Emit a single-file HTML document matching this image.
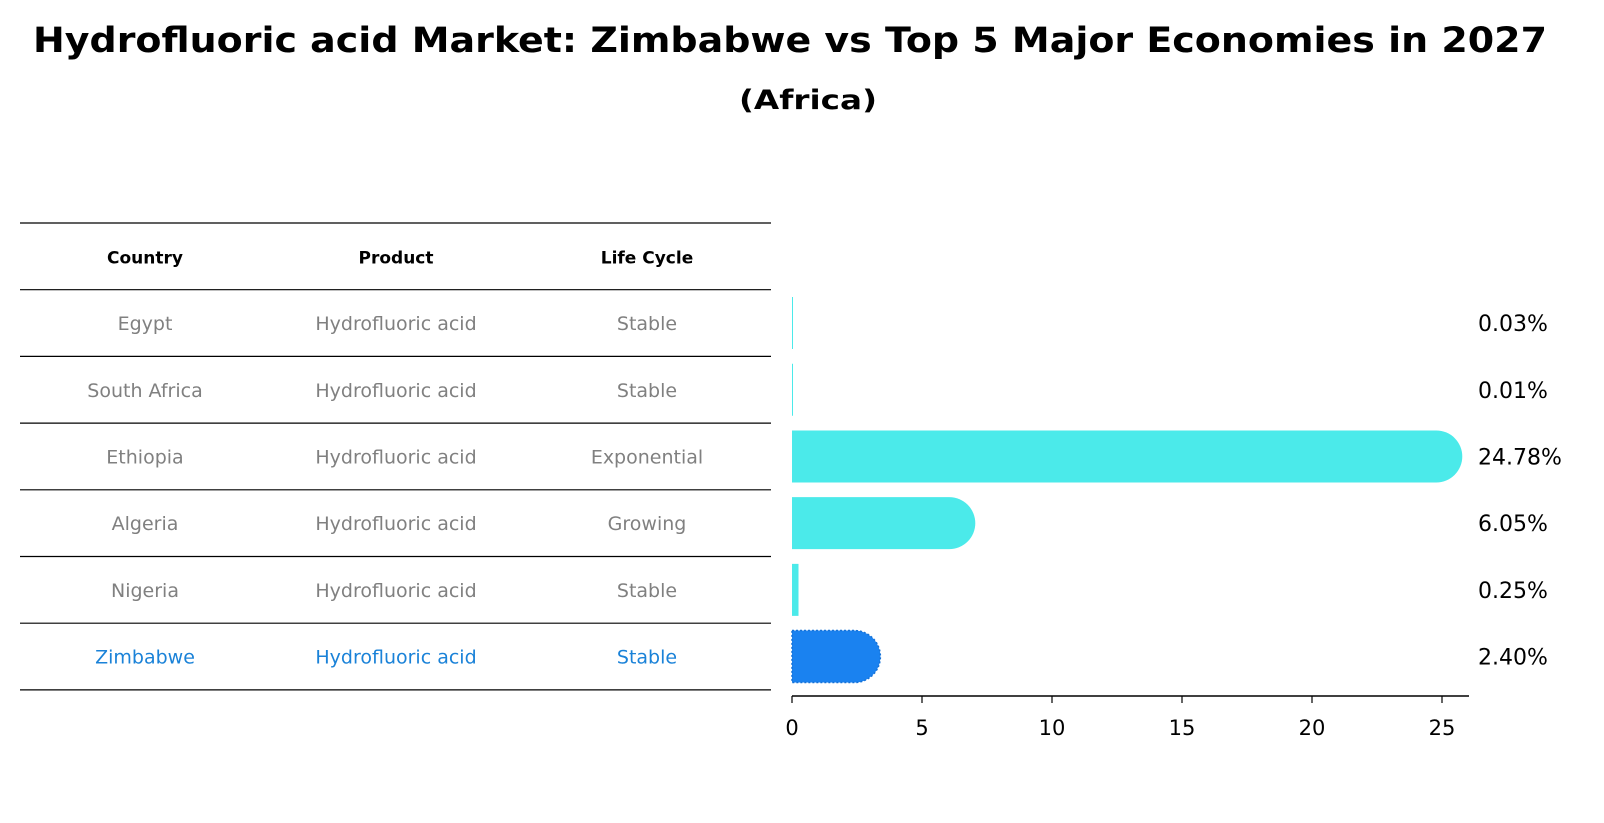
<!DOCTYPE html>
<html><head><meta charset="utf-8"><style>
html,body{margin:0;padding:0;background:#fff;}
svg{display:block;font-family:"DejaVu Sans","Liberation Sans",sans-serif;}
</style></head><body>
<svg id="chart" width="1604" height="823" viewBox="0 0 1604 823">
<text x="790" y="52" text-anchor="middle" font-size="35" font-weight="bold" textLength="1514" lengthAdjust="spacingAndGlyphs">Hydrofluoric acid Market: Zimbabwe vs Top 5 Major Economies in 2027</text>
<text x="808" y="109" text-anchor="middle" font-size="27" font-weight="bold" textLength="138" lengthAdjust="spacingAndGlyphs">(Africa)</text>
<g id="table"></g>
<g id="bars"></g>
</svg>
<script>
const countries = ["Egypt","South Africa","Ethiopia","Algeria","Nigeria","Zimbabwe"];
const products = ["Hydrofluoric acid","Hydrofluoric acid","Hydrofluoric acid","Hydrofluoric acid","Hydrofluoric acid","Hydrofluoric acid"];
const lifeCycles = ["Stable","Stable","Exponential","Growing","Stable","Stable"];
const values = [0.03,0.01,24.78,6.05,0.25,2.40];
const valueLabels = ["0.03%","0.01%","24.78%","6.05%","0.25%","2.40%"];
const xTicks = [0,5,10,15,20,25];
const highlight = "Zimbabwe";

const NS="http://www.w3.org/2000/svg";
function mk(tag,attrs,parent){const e=document.createElementNS(NS,tag);for(const k in attrs)e.setAttribute(k,attrs[k]);parent.appendChild(e);return e;}
const tbl=document.getElementById('table');
const bars=document.getElementById('bars');

const tX0=20,tX1=771,headTop=223,rowH=66.7;
const colX=[145,396,647];
function rowCenter(i){return headTop+rowH*(i+1)+rowH/2;}
for(let i=0;i<=countries.length+1;i++){
  const y=headTop+rowH*i;
  const l=mk('line',{x1:tX0,x2:tX1,y1:y,y2:y,stroke:'#000','stroke-width':1.2},tbl);
  
  
}
const heads=["Country","Product","Life Cycle"];
heads.forEach((h,j)=>{
  const t=mk('text',{x:colX[j],y:headTop+rowH/2+7,'text-anchor':'middle','font-size':17,'font-weight':'bold'},tbl);
  t.textContent=h;
  
  
});
countries.forEach((c,i)=>{
  const col=c===highlight?'#1a82d8':'#808080';
  [c,products[i],lifeCycles[i]].forEach((v,j)=>{
    const t=mk('text',{x:colX[j],y:rowCenter(i)+7,'text-anchor':'middle','font-size':19,fill:col},tbl);
    t.textContent=v;
    
    
  });
});

const x0=792,pxPerUnit=26,axisY=696,barH=52,cap=26;
function xs(v){return x0+v*pxPerUnit;}
const ax=mk('line',{x1:x0,x2:1469,y1:axisY,y2:axisY,stroke:'#000','stroke-width':1.5},bars);


xTicks.forEach(v=>{
  const tk=mk('line',{x1:xs(v),x2:xs(v),y1:axisY,y2:axisY+7,stroke:'#000','stroke-width':1.2},bars);
  
  
  const tl=mk('text',{x:xs(v),y:axisY+39,'text-anchor':'middle','font-size':21},bars);
  tl.textContent=v;
  
  
});
values.forEach((v,i)=>{
  const cy=rowCenter(i);
  const top=cy-barH/2;
  const w=Math.max(xs(v)-x0,1);
  const isH=countries[i]===highlight;
  const fill=isH?'#1a82f0':'#4beaea';
  let d;
  if(w>=cap){
    const e=x0+w;
    d=`M${x0},${top} H${e} A${cap},${cap} 0 0 1 ${e},${top+barH} H${x0} Z`;
  } else {
    d=`M${x0},${top} H${x0+w} V${top+barH} H${x0} Z`;
  }
  const attrs={d:d,fill:fill};
  if(isH){attrs.stroke='#1672d8';attrs['stroke-width']=1.5;attrs['stroke-dasharray']='2,2';}
  const b=mk('path',attrs,bars);
  
  
  const lb=mk('text',{x:1478,y:cy+8,'font-size':22},bars);
  lb.textContent=valueLabels[i];
  
  
});
</script>
</body></html>
